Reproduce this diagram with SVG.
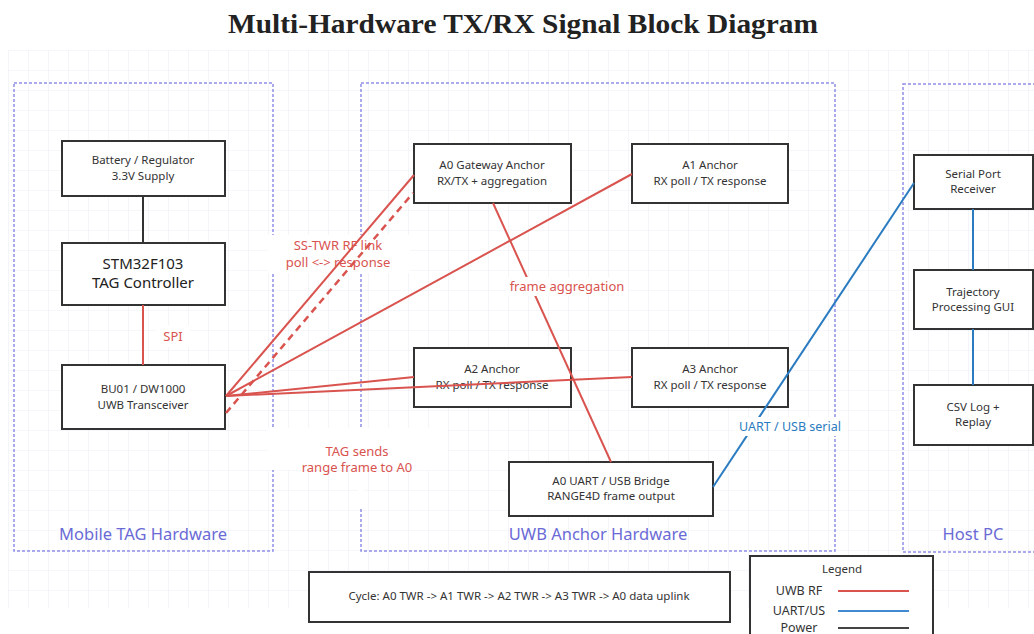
<svg xmlns="http://www.w3.org/2000/svg" width="1034" height="634" viewBox="0 0 1034 634">
<defs>
<pattern id="grid" x="8" y="50" width="20" height="20" patternUnits="userSpaceOnUse">
<path d="M0 0H20M0 0V20" fill="none" stroke="#eceff5" stroke-width="1.2"/>
</pattern>
<style>
.grp{fill:none;stroke:#8f8fe8;stroke-width:1.5;stroke-dasharray:3 2}
.glab{font-family:"Noto Sans","Open Sans",sans-serif;font-size:16.5px;fill:#6a6ad6;text-anchor:middle}
.box{fill:#fff;stroke:#333;stroke-width:2}
.t{font-family:"Noto Sans","Open Sans",sans-serif;font-size:11.5px;fill:#333;text-anchor:middle}
.tb{font-family:"Noto Sans","Open Sans",sans-serif;font-size:15px;fill:#222;text-anchor:middle}
.rf{stroke:#d9534f;stroke-width:2;fill:none}
.rfd{stroke:#d9534f;stroke-width:2.5;fill:none;stroke-dasharray:7 5}
.ser{stroke:#2b7bc0;stroke-width:2;fill:none}
.pw{stroke:#333;stroke-width:2;fill:none}
.rl{font-family:"Noto Sans","Open Sans",sans-serif;font-size:13px;fill:#d9534f;text-anchor:middle}
.bl{font-family:"Noto Sans","Open Sans",sans-serif;font-size:12.5px;fill:#2b7bc0;text-anchor:middle}
.bg{fill:#fff}
</style>
</defs>
<rect width="1034" height="634" fill="#fff"/>
<rect x="8" y="50" width="1026" height="558" fill="url(#grid)"/>
<text x="523" y="33" font-family="Liberation Serif,serif" font-weight="bold" font-size="28" fill="#222" text-anchor="middle" textLength="590" lengthAdjust="spacingAndGlyphs">Multi-Hardware TX/RX Signal Block Diagram</text>

<g id="grp-tag">
<rect class="grp" x="14" y="83" width="259" height="468"/>
<text class="glab" x="143" y="540">Mobile TAG Hardware</text>
</g>
<g id="grp-anchor">
<rect class="grp" x="361" y="83" width="474" height="468"/>
<text class="glab" x="598" y="540">UWB Anchor Hardware</text>
</g>
<g id="grp-host">
<rect class="grp" x="903" y="84" width="140" height="468"/>
<text class="glab" x="973" y="540">Host PC</text>
</g>

<g id="label-bgs">
<rect class="bg" x="268" y="235" width="142" height="38"/>
<rect class="bg" x="268" y="428" width="180" height="42"/>
<rect class="bg" x="358" y="470" width="6" height="37"/>
<rect class="bg" x="156" y="325" width="34" height="22"/>
</g>
<g id="label-sstwr">
<text class="rl" x="338" y="250">SS-TWR RF link</text>
<text class="rl" x="338" y="267">poll &lt;-&gt; response</text>
</g>
<g id="label-tag">
<text class="rl" x="357" y="456">TAG sends</text>
<text class="rl" x="357" y="472">range frame to A0</text>
</g>

<g id="battery"><rect class="box" x="62" y="141" width="163" height="55"/>
<text class="t" x="143" y="164">Battery / Regulator</text><text class="t" x="143" y="180">3.3V Supply</text></g>
<g id="stm32"><rect class="box" x="62" y="243" width="163" height="62"/>
<text class="tb" x="143" y="269">STM32F103</text><text class="tb" x="143" y="288">TAG Controller</text></g>
<g id="bu01"><rect class="box" x="62" y="365" width="163" height="64"/>
<text class="t" x="143" y="393">BU01 / DW1000</text><text class="t" x="143" y="409">UWB Transceiver</text></g>

<g id="a0"><rect class="box" x="414" y="144" width="157" height="59"/>
<text class="t" x="492" y="169">A0 Gateway Anchor</text><text class="t" x="492" y="185">RX/TX + aggregation</text></g>
<g id="a1"><rect class="box" x="632" y="144" width="156" height="59"/>
<text class="t" x="710" y="169">A1 Anchor</text><text class="t" x="710" y="185">RX poll / TX response</text></g>
<g id="a2"><rect class="box" x="414" y="348" width="157" height="59"/>
<text class="t" x="492" y="373">A2 Anchor</text><text class="t" x="492" y="389">RX poll / TX response</text></g>
<g id="a3"><rect class="box" x="632" y="348" width="156" height="59"/>
<text class="t" x="710" y="373">A3 Anchor</text><text class="t" x="710" y="389">RX poll / TX response</text></g>
<g id="bridge"><rect class="box" x="509" y="462" width="204" height="54"/>
<text class="t" x="611" y="485">A0 UART / USB Bridge</text><text class="t" x="611" y="500">RANGE4D frame output</text></g>

<g id="serial"><rect class="box" x="914" y="155" width="119" height="54"/>
<text class="t" x="973" y="178">Serial Port</text><text class="t" x="973" y="193">Receiver</text></g>
<g id="traj"><rect class="box" x="914" y="270" width="119" height="59"/>
<text class="t" x="973" y="296">Trajectory</text><text class="t" x="973" y="311">Processing GUI</text></g>
<g id="csv"><rect class="box" x="914" y="385" width="119" height="60"/>
<text class="t" x="973" y="411">CSV Log +</text><text class="t" x="973" y="426">Replay</text></g>

<g id="cycle"><rect class="box" x="309" y="572" width="421" height="50"/>
<text class="t" x="519" y="600">Cycle: A0 TWR -&gt; A1 TWR -&gt; A2 TWR -&gt; A3 TWR -&gt; A0 data uplink</text></g>

<g id="connectors">
<line class="pw" x1="143" y1="196" x2="143" y2="243"/>
<line class="rf" x1="143" y1="305" x2="143" y2="365"/>
<line class="rf" x1="226" y1="396" x2="414" y2="175"/>
<line class="rfd" x1="226" y1="413" x2="413" y2="193"/>
<line class="rf" x1="226" y1="396" x2="632" y2="174"/>
<line class="rf" x1="226" y1="396" x2="414" y2="377"/>
<line class="rf" x1="226" y1="396" x2="632" y2="377"/>
<line class="rf" x1="493" y1="203" x2="611" y2="462"/>
<line class="ser" x1="713" y1="487" x2="914" y2="183"/>
<line class="ser" x1="973" y1="209" x2="973" y2="270"/>
<line class="ser" x1="973" y1="329" x2="973" y2="385"/>
</g>

<g id="label-spi"><text class="rl" x="173" y="341">SPI</text></g>
<g id="label-agg"><rect class="bg" x="506" y="277" width="122" height="19"/>
<text class="rl" x="567" y="291">frame aggregation</text></g>
<g id="label-uart"><rect class="bg" x="734" y="417" width="114" height="19"/>
<text class="bl" x="790" y="431">UART / USB serial</text></g>

<g id="legend">
<rect class="box" x="750" y="556" width="183" height="90"/>
<text class="t" x="842" y="573" fill="#555">Legend</text>
<text class="t" x="799" y="595" style="font-size:12.5px">UWB RF</text>
<line x1="838" y1="591" x2="909" y2="591" stroke="#d9534f" stroke-width="2"/>
<text class="t" x="799" y="615" style="font-size:12.5px">UART/US</text>
<line x1="838" y1="611" x2="909" y2="611" stroke="#3f8ad0" stroke-width="2"/>
<text class="t" x="799" y="632" style="font-size:12.5px">Power</text>
<line x1="838" y1="628" x2="909" y2="628" stroke="#444" stroke-width="2"/>
</g>
</svg>
